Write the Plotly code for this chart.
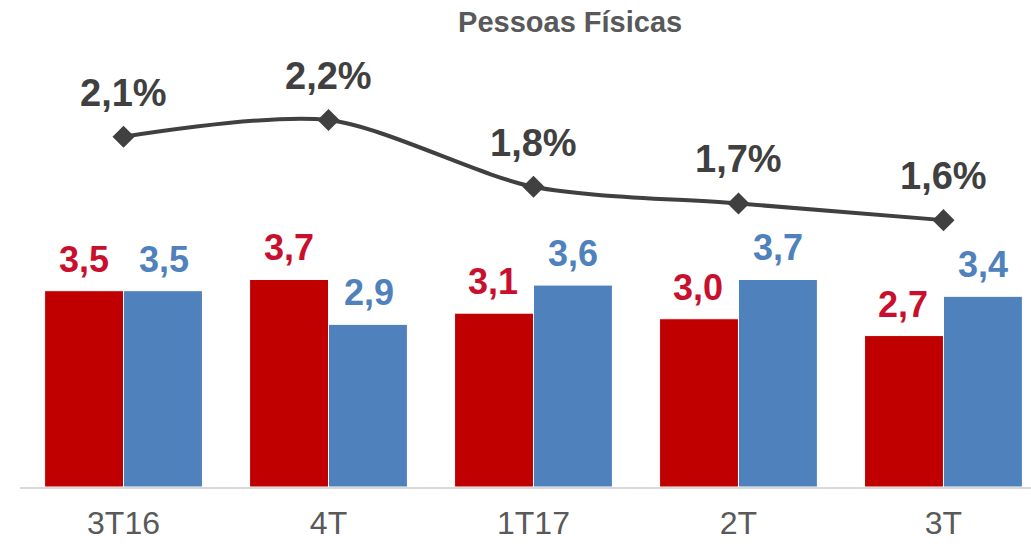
import plotly.graph_objects as go

categories = ["3T16", "4T", "1T17", "2T", "3T"]
red_values = [3.5, 3.7, 3.1, 3.0, 2.7]
blue_values = [3.5, 2.9, 3.6, 3.7, 3.4]
line_values = [2.1, 2.2, 1.8, 1.7, 1.6]

RED = "#C00000"
RED_TXT = "#C8102E"
BLUE = "#4F81BD"
DARK = "#404040"
GRAY = "#595959"
FONT = "Liberation Sans"

def fmt(v, pct=False):
    s = f"{v:.1f}".replace(".", ",")
    return s + ("%" if pct else "")

fig = go.Figure()
fig.add_trace(go.Bar(x=categories, y=red_values, marker=dict(color=RED, line=dict(color="white", width=1)),
                     hoverinfo="skip", showlegend=False))
fig.add_trace(go.Bar(x=categories, y=blue_values, marker=dict(color=BLUE, line=dict(color="white", width=1)),
                     hoverinfo="skip", showlegend=False))
fig.add_trace(go.Scatter(x=categories, y=line_values, yaxis="y2", mode="lines+markers",
                         line=dict(color=DARK, width=4, shape="spline", smoothing=0.8),
                         marker=dict(symbol="diamond", size=17, color=DARK),
                         hoverinfo="skip", showlegend=False))

annotations = []
for c, r, b, l in zip(categories, red_values, blue_values, line_values):
    annotations.append(dict(x=c, y=r, xref="x", yref="y", text=fmt(r), showarrow=False,
                            xshift=-40, yshift=9, yanchor="bottom",
                            font=dict(family=FONT, size=36, color=RED_TXT, weight="bold")))
    annotations.append(dict(x=c, y=b, xref="x", yref="y", text=fmt(b), showarrow=False,
                            xshift=40, yshift=9, yanchor="bottom",
                            font=dict(family=FONT, size=36, color=BLUE, weight="bold")))
    annotations.append(dict(x=c, y=l, xref="x", yref="y2", text=fmt(l, True), showarrow=False,
                            xshift=0, yshift=21, yanchor="bottom",
                            font=dict(family=FONT, size=38, color=DARK, weight="bold")))

fig.update_layout(
    width=1031, height=548,
    margin=dict(l=20, r=0, t=40, b=61),
    paper_bgcolor="white", plot_bgcolor="white",
    barmode="group", bargap=0.23, bargroupgap=0,
    title=dict(text="<b>Pessoas Físicas</b>", x=0.553, xref="container", xanchor="center",
               y=1 - 22 / 548, yref="container", yanchor="middle",
               font=dict(family=FONT, size=29, color=GRAY)),
    xaxis=dict(range=[-0.505, 4.427], showgrid=False, showline=True, linecolor="#D9D9D9", linewidth=2,
               ticks="", ticklabelstandoff=7, automargin=False,
               tickfont=dict(family=FONT, size=32, color=GRAY)),
    yaxis=dict(range=[0, 7.97], visible=False, showgrid=False, automargin=False),
    yaxis2=dict(range=[0, 2.68], overlaying="y", visible=False, showgrid=False, automargin=False),
    annotations=annotations,
)

fig.write_html("out.html", config={"displayModeBar": False},
               post_script="document.body.style.margin='0';")
